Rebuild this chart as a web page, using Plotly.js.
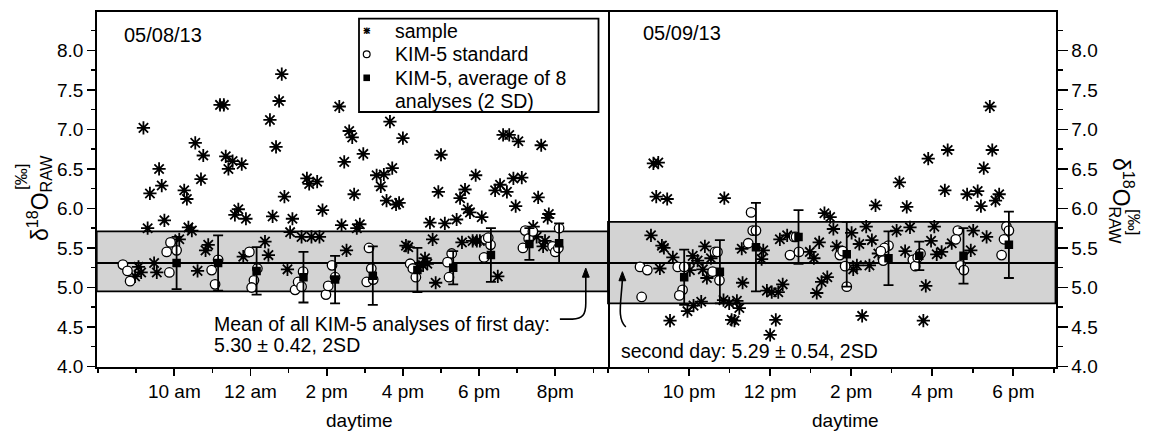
<!DOCTYPE html>
<html>
<head>
<meta charset="utf-8">
<script src="https://cdn.plot.ly/plotly-3.0.1.min.js"></script>
<style>html,body{margin:0;padding:0;background:#fff}#chart{width:1149px;height:432px}</style>
</head>
<body>
<div id="chart"></div>
<script>
// ---- Data (time in decimal hours; second day continues past 24) ----
const day1SampleTime = [9.19,10.55,11.20,11.30,12.82,12.75,12.51,12.67,14.33,14.59,14.67,
  10.76,9.60,9.36,9.67,10.26,10.33,10.70,11.35,11.53,11.42,11.77,12.89,13.48,13.54,13.75,13.89,14.46,
  11.68,11.59,11.88,12.58,13.10,13.04,9.74,9.30,10.37,10.46,10.13,10.89,10.82,11.81,12.47,12.38,
  13.34,13.60,13.81,14.39,14.52,9.06,8.97,9.13,9.47,9.54,10.61,12.97,
  15.66,16.00,18.63,18.79,19.03,19.63,
  14.96,17.00,15.31,15.50,15.72,15.42,14.72,15.57,15.82,15.90,17.91,16.93,17.63,17.50,18.42,18.55,
  18.73,18.90,19.12,18.96,19.55,17.70,17.76,18.07,17.41,16.71,17.10,19.83,19.80,14.79,14.87,16.78,
  17.55,17.83,17.94,18.02,16.08,16.14,16.58,16.64,16.53,16.39,19.42,19.51,19.73,19.68,16.86,18.49];
const day1SampleValue = [7.02,6.83,7.31,7.31,7.70,7.36,7.12,6.78,7.29,6.98,6.90,
  6.67,6.50,6.19,6.29,6.23,6.12,6.37,6.66,6.60,6.50,6.56,6.15,6.38,6.31,6.34,5.98,6.59,
  5.99,5.92,5.87,5.90,5.87,5.70,5.85,5.75,5.76,5.72,5.61,5.54,5.47,5.39,5.41,5.58,
  5.64,5.64,5.64,5.79,5.47,5.26,5.14,5.19,5.31,5.19,5.21,5.23,
  7.10,6.89,6.93,6.93,6.85,6.80,
  6.69,6.68,6.42,6.43,6.51,6.28,6.18,6.10,6.05,6.07,6.42,6.21,6.24,6.13,6.23,6.30,
  6.21,6.38,6.39,6.03,6.14,5.99,5.95,5.89,5.86,5.82,5.81,5.93,5.88,5.75,5.80,5.61,
  5.57,5.59,5.59,5.59,5.53,5.51,5.37,5.30,5.28,5.26,5.77,5.64,5.59,5.52,5.06,5.14];

const day1StdTime = [8.65,8.77,8.84,9.80,9.90,10.06,9.87,10.98,11.07,11.15,11.97,12.09,12.03,12.18,
  13.17,13.25,13.34,13.38,13.98,14.04,14.14,14.22,15.11,15.17,15.05,15.22,16.19,16.26,16.34,
  17.28,17.17,17.21,18.17,18.30,18.24,18.13,19.21,19.30,19.15,19.41,20.10,19.93,20.00,20.08];
const day1StdValue = [5.29,5.21,5.08,5.45,5.57,5.47,5.19,5.22,5.04,5.35,5.45,5.09,5.00,5.24,
  4.97,5.07,5.01,5.20,4.91,5.02,5.28,5.13,5.50,5.24,5.07,5.10,5.30,5.24,5.13,
  5.43,5.32,5.13,5.61,5.54,5.63,5.38,5.72,5.62,5.50,5.71,5.75,5.52,5.45,5.50];

const day1AvgTime  = [10.06,11.15,12.16,13.39,14.22,15.21,16.38,17.32,18.31,19.32,20.10];
const day1AvgValue = [5.31,5.31,5.21,5.13,5.10,5.15,5.22,5.25,5.41,5.55,5.56];
const day1Avg2SD   = [0.33,0.35,0.30,0.32,0.30,0.37,0.28,0.21,0.34,0.20,0.25];

const day2SampleTime = [21.12,21.24,21.19,21.46,22.87,29.42,28.38,29.48,27.90,29.27,27.19,28.31,28.86,29.12,29.65,
  21.06,21.33,21.38,21.28,21.60,22.09,22.21,22.39,22.34,22.44,22.54,22.02,21.96,21.53,22.11,22.30,
  22.85,22.99,23.18,23.24,23.05,23.12,24.00,24.14,23.32,23.30,23.83,23.79,23.92,24.04,24.20,24.31,
  24.24,24.42,24.98,25.08,25.21,25.15,25.27,25.41,25.34,25.48,25.56,25.64,29.56,29.20,26.60,27.37,
  26.01,26.37,26.51,26.20,27.12,27.45,28.05,27.97,27.33,28.11,28.23,28.48,29.01,28.95,29.34,26.67,
  26.45,26.14,26.05,27.84,26.27,27.78];
const day2SampleValue = [6.57,6.58,6.15,6.12,6.13,7.29,6.74,6.74,6.63,6.51,6.33,6.23,6.18,6.22,6.18,
  5.66,5.53,5.50,5.24,5.38,5.40,5.34,5.52,5.23,5.12,5.37,5.22,4.70,4.58,4.77,4.82,
  4.84,4.80,4.83,4.74,4.59,4.58,4.40,4.59,5.06,5.49,5.47,5.36,4.96,4.94,4.94,5.04,
  5.61,5.66,5.45,5.37,5.57,4.93,5.07,5.13,5.94,5.89,5.74,5.52,6.10,6.03,6.04,6.02,
  5.69,5.77,5.60,5.55,5.72,5.76,5.77,5.59,5.46,5.42,5.45,5.56,5.72,5.47,5.64,5.43,
  5.28,5.28,5.23,5.02,4.64,4.58];

const day2StdTime = [20.79,20.97,20.83,21.72,21.88,21.84,21.76,22.64,22.70,22.58,22.75,23.53,23.57,23.65,23.46,
  24.59,24.64,24.49,24.71,25.72,25.79,25.85,25.89,26.92,26.82,26.73,26.79,27.52,27.58,27.64,27.71,
  28.63,28.58,28.70,28.78,29.83,29.89,29.77,29.71];
const day2StdValue = [5.26,5.22,4.88,5.26,5.26,4.97,4.90,5.45,5.45,5.20,5.09,5.95,5.72,5.72,5.56,
  5.64,5.64,5.41,5.45,5.41,5.46,5.27,5.01,5.53,5.50,5.46,5.34,5.35,5.27,5.38,5.43,
  5.72,5.61,5.28,5.22,5.77,5.72,5.61,5.41];

const day2AvgTime  = [21.88,22.76,23.65,24.70,25.89,26.92,27.68,28.77,29.89];
const day2AvgValue = [5.13,5.20,5.51,5.64,5.42,5.37,5.40,5.40,5.54];
const day2Avg2SD   = [0.35,0.40,0.56,0.34,0.41,0.34,0.18,0.35,0.42];

const day1Mean = 5.31, day1Low = 4.95, day1High = 5.71;
const day2Mean = 5.31, day2Low = 4.80, day2High = 5.83;

const day1TickVals = [10,12,14,16,18,20];
const day1TickText = ['10 am','12 am','2 pm','4 pm','6 pm','8pm'];
const day2TickVals = [22,24,26,28,30];
const day2TickText = ['10 pm','12 pm','2 pm','4 pm','6 pm'];
const yTickVals = [4.0,4.5,5.0,5.5,6.0,6.5,7.0,7.5,8.0];
const yTickText = ['4.0','4.5','5.0','5.5','6.0','6.5','7.0','7.5','8.0'];

const legendLabels = ['sample','KIM-5 standard','KIM-5, average of 8','analyses (2 SD)'];

// ---- Styling ----
const FONT = 'Liberation Sans, Arial, Helvetica, sans-serif';
const sampleMarker = {symbol:'asterisk-open', size:11, color:'#000', line:{color:'#000', width:1.8}};
const stdMarker = {symbol:'circle', size:9.5, color:'#fff', line:{color:'#000', width:1.3}};
const avgMarker = {symbol:'square', size:8.5, color:'#000', line:{color:'#000', width:0}};

const traces = [
  {x:day1SampleTime, y:day1SampleValue, xaxis:'x', yaxis:'y', mode:'markers', type:'scatter', name:'sample', marker:sampleMarker},
  {x:day2SampleTime, y:day2SampleValue, xaxis:'x2', yaxis:'y2', mode:'markers', type:'scatter', name:'sample', marker:sampleMarker},
  {x:day1StdTime, y:day1StdValue, xaxis:'x', yaxis:'y', mode:'markers', type:'scatter', name:'KIM-5 standard', marker:stdMarker},
  {x:day2StdTime, y:day2StdValue, xaxis:'x2', yaxis:'y2', mode:'markers', type:'scatter', name:'KIM-5 standard', marker:stdMarker},
  {x:day1AvgTime, y:day1AvgValue, xaxis:'x', yaxis:'y', mode:'markers', type:'scatter', name:'KIM-5, average of 8 analyses (2 SD)', marker:avgMarker,
   error_y:{type:'data', array:day1Avg2SD, visible:true, color:'#000', thickness:1.8, width:5}},
  {x:day2AvgTime, y:day2AvgValue, xaxis:'x2', yaxis:'y2', mode:'markers', type:'scatter', name:'KIM-5, average of 8 analyses (2 SD)', marker:avgMarker,
   error_y:{type:'data', array:day2Avg2SD, visible:true, color:'#000', thickness:1.8, width:5}}
];

const W = 1149, H = 432;
const px = v => v / W, py = v => 1 - v / H;

const xCommon = {
  showline:true, linecolor:'#000', linewidth:2, mirror:true, showgrid:false, zeroline:false,
  ticks:'outside', ticklen:7, tickwidth:1.8, tickcolor:'#000', tickmode:'array',
  tickfont:{family:FONT, size:19, color:'#000'},
  minor:{ticks:'outside', ticklen:4, tickwidth:1.5, tickcolor:'#000', dtick:1, tick0:0, showgrid:false}
};
const yCommon = {
  range:[4.0, 8.49], domain:[py(366.5), py(11.7)], showgrid:false, zeroline:false,
  showline:true, linecolor:'#000', linewidth:2, tickmode:'array', tickvals:yTickVals, ticktext:yTickText,
  tickwidth:1.8, tickcolor:'#000', tickfont:{family:FONT, size:19, color:'#000'}
};

// legend (drawn as box + text keys)
const legX0 = 359, legX1 = 598.5, legY0 = 18.7, legY1 = 112;
const legRows = [30.7, 54.2, 77.8, 101.2];
const symX = 366.7;
const legendAnn = legendLabels.map((t,i) => ({xref:'paper', yref:'paper', x:px(393), y:py(legRows[i]), xanchor:'left', yanchor:'middle',
  text:t, showarrow:false, font:{family:FONT, size:19.5, color:'#000'}}));
const keyAnn = [
  {text:'<b>+</b>', size:13, dy:0},
  {text:'<b>×</b>', size:13, dy:0},
].map(k => ({xref:'paper', yref:'paper', x:px(symX), y:py(legRows[0]+k.dy), xanchor:'center', yanchor:'middle',
  text:k.text, showarrow:false, font:{family:FONT, size:k.size, color:'#000'}}));

const rowH = 1 / H;
const layout = {
  width:W, height:H, margin:{l:0, r:0, t:0, b:0}, paper_bgcolor:'#fff', plot_bgcolor:'#fff',
  font:{family:FONT, color:'#000'},
  showlegend:false,
  xaxis: Object.assign({}, xCommon, {domain:[px(96.7), px(608)], range:[7.963, 21.383], anchor:'y', tickvals:day1TickVals, ticktext:day1TickText}),
  xaxis2: Object.assign({}, xCommon, {domain:[px(608), px(1055.5)], range:[20.0, 31.04], anchor:'y2', tickvals:day2TickVals, ticktext:day2TickText}),
  yaxis: Object.assign({}, yCommon, {anchor:'x', side:'left', mirror:true, ticks:'outside', ticklen:7.5,
    minor:{ticks:'outside', ticklen:4, tickwidth:1.5, tickcolor:'#000', dtick:0.25, tick0:0, showgrid:false}}),
  yaxis2: Object.assign({}, yCommon, {anchor:'x2', side:'right', ticks:'outside', ticklen:10,
    minor:{ticks:'outside', ticklen:5, tickwidth:1.5, tickcolor:'#000', dtick:0.25, tick0:0, showgrid:false}}),
  yaxis3: Object.assign({}, yCommon, {anchor:'x2', overlaying:'y2', side:'right', ticks:'inside', ticklen:5, showticklabels:false,
    minor:{ticks:'inside', ticklen:4, tickwidth:1.5, tickcolor:'#000', dtick:0.25, tick0:0, showgrid:false}}),
  yaxis4: Object.assign({}, yCommon, {anchor:'x2', overlaying:'y2', side:'left', ticks:'outside', ticklen:4, showticklabels:false,
    minor:{ticks:'outside', ticklen:3, tickwidth:1.5, tickcolor:'#000', dtick:0.25, tick0:0, showgrid:false}}),
  yaxis5: Object.assign({}, yCommon, {anchor:'x2', overlaying:'y2', side:'left', ticks:'inside', ticklen:5, showticklabels:false,
    minor:{ticks:'inside', ticklen:4, tickwidth:1.5, tickcolor:'#000', dtick:0.25, tick0:0, showgrid:false}}),
  shapes:[
    {type:'rect', xref:'x domain', yref:'y', x0:0, x1:1, y0:day1Low, y1:day1High, fillcolor:'#d3d3d3', line:{color:'#000', width:1.8}, layer:'below'},
    {type:'line', xref:'x domain', yref:'y', x0:0, x1:1, y0:day1Mean, y1:day1Mean, line:{color:'#000', width:1.8}, layer:'below'},
    {type:'rect', xref:'x2 domain', yref:'y2', x0:0, x1:1, y0:day2Low, y1:day2High, fillcolor:'#d3d3d3', line:{color:'#000', width:1.8}, layer:'below'},
    {type:'line', xref:'x2 domain', yref:'y2', x0:0, x1:1, y0:day2Mean, y1:day2Mean, line:{color:'#000', width:1.8}, layer:'below'},
    // curved pointer arrows
    {type:'path', xref:'x', yref:'y', path:'M 20.12 4.60 L 20.45 4.60 C 20.72 4.60, 20.80 4.66, 20.80 4.80 L 20.80 5.15', line:{color:'#000', width:1.6}},
    {type:'path', xref:'x', yref:'y', path:'M 20.80 5.245 L 20.71 5.13 L 20.89 5.13 Z', fillcolor:'#000', line:{color:'#000', width:1}},
    {type:'path', xref:'x2', yref:'y2', path:'M 20.355 5.10 C 20.32 4.80, 20.22 4.60, 20.44 4.50', line:{color:'#000', width:1.6}},
    {type:'path', xref:'x2', yref:'y2', path:'M 20.355 5.20 L 20.27 5.085 L 20.44 5.085 Z', fillcolor:'#000', line:{color:'#000', width:1}},
    // legend box and keys
    {type:'rect', xref:'paper', yref:'paper', x0:px(legX0), x1:px(legX1), y0:py(legY1), y1:py(legY0), fillcolor:'#fff', line:{color:'#000', width:1.8}, layer:'above'},
    {type:'circle', xref:'paper', yref:'paper', x0:px(symX-3.4), x1:px(symX+3.4), y0:py(legRows[1]+3.4), y1:py(legRows[1]-3.4), fillcolor:'#fff', line:{color:'#000', width:1.2}, layer:'above'},
    {type:'rect', xref:'paper', yref:'paper', x0:px(symX-3.3), x1:px(symX+3.3), y0:py(legRows[2]+3.3), y1:py(legRows[2]-3.3), fillcolor:'#000', line:{width:0}, layer:'above'}
  ],
  annotations:[
    {xref:'paper', yref:'paper', x:px(121.7), y:py(35), xanchor:'left', yanchor:'middle', text:'05/08/13', showarrow:false, font:{family:FONT, size:20}},
    {xref:'paper', yref:'paper', x:px(640.7), y:py(33), xanchor:'left', yanchor:'middle', text:'05/09/13', showarrow:false, font:{family:FONT, size:20}},
    {xref:'paper', yref:'paper', x:px(212), y:py(324), xanchor:'left', yanchor:'middle', text:'Mean of all KIM-5 analyses of first day:', showarrow:false, font:{family:FONT, size:19.5}},
    {xref:'paper', yref:'paper', x:px(211.5), y:py(345), xanchor:'left', yanchor:'middle', text:'5.30 ± 0.42, 2SD', showarrow:false, font:{family:FONT, size:19.5}},
    {xref:'paper', yref:'paper', x:px(619), y:py(350.7), xanchor:'left', yanchor:'middle', text:'second day: 5.29 ± 0.54, 2SD', showarrow:false, font:{family:FONT, size:19.5}},
    {xref:'paper', yref:'paper', x:px(359), y:py(420), xanchor:'center', yanchor:'middle', text:'daytime', showarrow:false, font:{family:FONT, size:19}},
    {xref:'paper', yref:'paper', x:px(845), y:py(420), xanchor:'center', yanchor:'middle', text:'daytime', showarrow:false, font:{family:FONT, size:19}},
    {xref:'paper', yref:'paper', x:px(39), y:py(198), xanchor:'center', yanchor:'middle', textangle:-90, text:'δ<sup>18</sup>O<sub>RAW</sub>', showarrow:false, font:{family:FONT, size:23}},
    {xref:'paper', yref:'paper', x:px(21), y:py(177), xanchor:'center', yanchor:'middle', textangle:-90, text:'[‰]', showarrow:false, font:{family:FONT, size:17}},
    {xref:'paper', yref:'paper', x:px(1122), y:py(201), xanchor:'center', yanchor:'middle', textangle:90, text:'δ<sup>18</sup>O<sub>RAW</sub>', showarrow:false, font:{family:FONT, size:23}},
    {xref:'paper', yref:'paper', x:px(1133), y:py(222), xanchor:'center', yanchor:'middle', textangle:90, text:'[‰]', showarrow:false, font:{family:FONT, size:17}}
  ].concat(legendAnn, keyAnn)
};

Plotly.newPlot('chart', traces, layout, {staticPlot:true, displayModeBar:false});
</script>
</body>
</html>
